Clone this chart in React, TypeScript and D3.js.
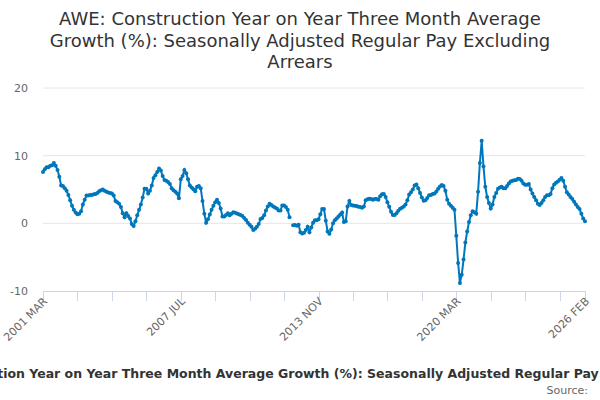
// AWE construction pay growth line chart
import React, { useEffect, useRef } from 'react';
import * as d3 from 'd3';

const titleLines = [
  'AWE: Construction Year on Year Three Month Average',
  'Growth (%): Seasonally Adjusted Regular Pay Excluding',
  'Arrears',
];
const footerTitle =
  'AWE: Construction Year on Year Three Month Average Growth (%): Seasonally Adjusted Regular Pay Excluding Arrears';
const sourceLabel = 'Source:';

const monthNames = ['JAN', 'FEB', 'MAR', 'APR', 'MAY', 'JUN', 'JUL', 'AUG', 'SEP', 'OCT', 'NOV', 'DEC'];
const startYear = 2001;
const startMonth = 2; // MAR
const yTicks = [-10, 0, 10, 20];
const labelledTicks = [0, 76, 152, 228, 299];
const tickStep = 19;

// monthly values, 2001 MAR onwards
const growthA = [
  7.6, 8.0, 8.3, 8.3, 8.5, 8.6, 8.9, 8.5, 7.9, 6.9,
  5.6, 5.5, 5.2, 4.8, 4.2, 3.4, 2.6, 2.0, 1.6, 1.35,
  1.4, 1.8, 2.8, 3.5, 4.1, 4.1, 4.2, 4.2, 4.3, 4.35,
  4.5, 4.75, 4.9, 5.0, 4.8, 4.65, 4.55, 4.5, 4.4, 4.1,
  3.3, 3.1, 2.9, 2.4, 1.5, 0.9, 1.5, 1.1, 0.7, -0.1,
  -0.4, 0.3, 1.2, 2.0, 2.8, 3.8, 5.1, 5.1, 4.4, 4.8,
];
const growthB = [
  5.6, 6.7, 7.1, 7.6, 8.1, 7.8, 7.0, 6.4, 6.3, 6.1,
  5.8, 5.2, 4.9, 4.65, 4.4, 3.7, 6.5, 7.0, 7.9, 7.4,
  6.5, 5.6, 5.3, 5.05, 4.75, 5.4, 5.5, 5.2, 3.3, 1.4,
  0.1, 0.6, 1.3, 2.0, 2.6, 3.1, 3.5, 3.0, 2.2, 1.0,
  1.0, 1.25, 1.5, 1.2, 1.4, 1.65, 1.55, 1.45, 1.35, 1.25,
  1.1, 0.8, 0.5, 0.1, -0.2, -0.5, -1.0, -0.8, -0.5, -0.1,
];
const growthC = [
  0.65, 0.8, 1.2, 1.9, 2.5, 2.9, 2.7, 2.5, 2.35, 2.2,
  1.9, 1.9, 2.65, 2.65, 2.4, 2.0, 0.9, null, -0.3, -0.25,
  -0.35, -0.2, -1.3, -1.5, -1.4, -1.0, -0.5, -1.3, -0.6, 0.1,
  0.45, 0.45, 0.6, 1.35, 2.1, 2.1, 0.4, -1.2, -1.55, -0.9,
  0.0, 0.45, 0.7, 1.0, 1.3, 1.6, 0.2, 0.3, 2.5, 3.3,
  2.7, 2.65, 2.6, 2.55, 2.45, 2.4, 2.3, 2.5, 3.4, 3.55,
];
const growthD = [
  3.65, 3.6, 3.5, 3.6, 3.6, 3.5, 4.0, 4.3, 4.35, 3.9,
  3.1, 2.45, 1.7, 1.25, 1.25, 1.5, 1.85, 2.15, 2.3, 2.5,
  2.8, 3.4, 4.25, 4.6, 5.0, 5.6, 5.75, 5.2, 4.5, 3.8,
  3.35, 3.4, 3.75, 4.15, 4.2, 4.35, 4.4, 4.7, 5.1, 5.45,
  5.65, 5.5, 4.8, 3.5, 2.9, 2.6, 2.3, 2.0, -1.85, -5.85,
  -8.8, -7.6, -5.35, -2.85, -1.2, 0.2, 1.2, 1.8, 1.65, 1.4,
];
const growthE = [
  4.65, 8.9, 12.2, 8.4, 5.4, 3.9, 3.0, 2.2, 2.8, 3.9,
  4.5, 5.1, 5.3, 5.4, 5.2, 5.2, 5.5, 5.9, 6.2, 6.3,
  6.35, 6.4, 6.6, 6.55, 6.3, 5.9, 5.7, 5.7, 5.8, 5.0,
  4.4, 3.9, 3.4, 2.9, 2.7, 3.0, 3.4, 3.9, 4.15, 4.15,
  4.35, 5.2, 5.75, 6.0, 6.2, 6.45, 6.7, 6.3, 5.4, 4.6,
  4.25, 3.9, 3.6, 3.2, 2.8, 2.4, 2.1, 1.4, 0.7, 0.3,
];

const growth: (number | null)[] = [...growthA, ...growthB, ...growthC, ...growthD, ...growthE];

const monthLabel = (i: number) => {
  const m = startMonth + i;
  return `${startYear + Math.floor(m / 12)} ${monthNames[m % 12]}`;
};

const App: React.FC = () => {
  const ref = useRef<SVGSVGElement>(null);

  useEffect(() => {
    document.body.style.margin = '0';
    if (!ref.current) return;
    const svg = d3.select(ref.current);
    svg.selectAll('*').remove();

    const width = 600;
    const height = 400;
    const font = '"DejaVu Sans", Verdana, sans-serif';
    const blue = '#0077bb';

    svg.attr('width', width).attr('height', height).style('font-family', font);
    svg.append('rect').attr('width', width).attr('height', height).attr('fill', '#fff');

    const x = d3.scaleLinear().domain([0, growth.length - 1]).range([43, 585]);
    const y = d3.scaleLinear().domain([-10, 20]).range([291, 88]);

    // Title
    svg.append('text')
      .attr('x', 300)
      .attr('text-anchor', 'middle')
      .style('font-size', '18px')
      .attr('fill', '#333')
      .selectAll('tspan')
      .data(titleLines)
      .join('tspan')
      .attr('x', 300)
      .attr('y', (_, i) => 25 + i * 21.5)
      .text((d) => d);

    // Grid + y labels
    yTicks.forEach((t) => {
      if (t > -10) {
        svg.append('line')
          .attr('x1', 43).attr('x2', 585)
          .attr('y1', y(t)).attr('y2', y(t))
          .attr('stroke', '#e6e6e6').attr('stroke-width', 1);
      }
      svg.append('text')
        .attr('x', 28)
        .attr('y', y(t) + 4)
        .attr('text-anchor', 'end')
        .style('font-size', '11px')
        .attr('fill', '#666')
        .text(t);
    });

    // X axis
    svg.append('line')
      .attr('x1', 43).attr('x2', 585)
      .attr('y1', 291.5).attr('y2', 291.5)
      .attr('stroke', '#ccd6eb');

    const tickIdx = d3.range(0, growth.length, tickStep).concat([growth.length - 1]);
    svg.append('g')
      .selectAll('line')
      .data(tickIdx)
      .join('line')
      .attr('x1', (d) => Math.round(x(d)) + 0.5)
      .attr('x2', (d) => Math.round(x(d)) + 0.5)
      .attr('y1', 291)
      .attr('y2', 301)
      .attr('stroke', '#ccd6eb');

    svg.append('g')
      .selectAll('text')
      .data(labelledTicks)
      .join('text')
      .attr('transform', (d) => `translate(${x(d) + 5},${302}) rotate(-45)`)
      .attr('text-anchor', 'end')
      .style('font-size', '11px')
      .attr('fill', '#666')
      .text((d) => monthLabel(d));

    // Series
    const line = d3.line<number | null>()
      .defined((d) => d != null)
      .x((_, i) => x(i))
      .y((d) => y(d as number));

    svg.append('path')
      .datum(growth)
      .attr('fill', 'none')
      .attr('stroke', blue)
      .attr('stroke-width', 2)
      .attr('d', line);

    svg.append('g')
      .selectAll('circle')
      .data(growth.map((v, i) => ({ v, i })).filter((d) => d.v != null))
      .join('circle')
      .attr('cx', (d) => x(d.i))
      .attr('cy', (d) => y(d.v as number))
      .attr('r', 2)
      .attr('fill', blue);

    // Footer (overflows the frame, as in the source)
    svg.append('text')
      .attr('x', 311)
      .attr('y', 378)
      .attr('text-anchor', 'middle')
      .style('font-size', '12.5px')
      .style('font-weight', 'bold')
      .attr('fill', '#333')
      .text(footerTitle);

    svg.append('text')
      .attr('x', 588)
      .attr('y', 394)
      .attr('text-anchor', 'end')
      .style('font-size', '11px')
      .attr('fill', '#666')
      .text(sourceLabel);
  }, []);

  return (
    <div>
      <svg ref={ref} style={{ display: 'block' }}></svg>
    </div>
  );
};

export default App;
